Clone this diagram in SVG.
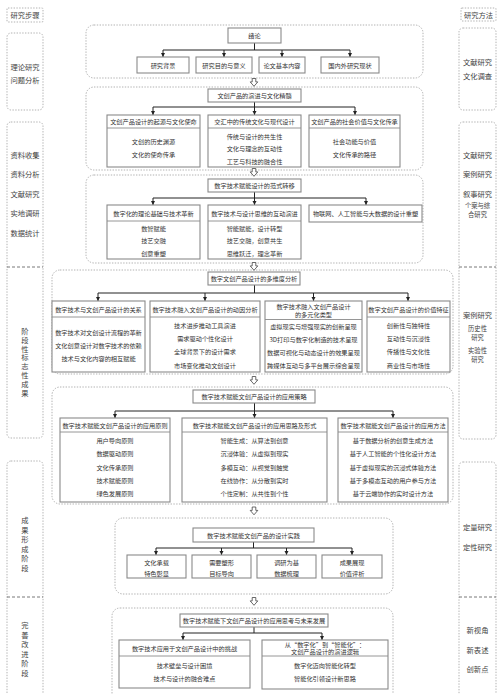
<svg xmlns="http://www.w3.org/2000/svg" xmlns:xlink="http://www.w3.org/1999/xlink" width="500" height="694" viewBox="0 0 500 694">
<defs>
<style>
.bg{fill:#fff}
.sec{fill:none;stroke:#a0a0a0;stroke-width:0.8;stroke-dasharray:1.4 1.4}
.col{fill:none;stroke:#a0a0a0;stroke-width:0.8;stroke-dasharray:1.4 1.4}
.div{stroke:#555;stroke-width:0.8;stroke-dasharray:3 2}
.box{fill:#fff;stroke:#8a8a8a;stroke-width:1.1}
.hl{stroke:#8a8a8a;stroke-width:0.9}
.t{font-family:"Noto Sans CJK SC","Noto Sans",sans-serif;font-size:6.2px;fill:#333;text-anchor:middle;dominant-baseline:central}
.l{font-family:"Noto Sans CJK SC","Noto Sans",sans-serif;font-size:7.3px;fill:#444;text-anchor:middle;dominant-baseline:central}
.ls{font-family:"Noto Sans CJK SC","Noto Sans",sans-serif;font-size:6.3px;fill:#444;text-anchor:middle;dominant-baseline:central}
.c{fill:none;stroke:#222;stroke-width:1}
.a{fill:none;stroke:#222;stroke-width:1;marker-end:url(#ah)}
.ho{fill:#fff;stroke:#444;stroke-width:0.8}
</style>
<marker id="ah" viewBox="0 0 6 6" refX="6" refY="3" markerWidth="4.5" markerHeight="4.5" orient="auto" markerUnits="userSpaceOnUse"><path d="M0,0 L6,3 L0,6 z" fill="#222"/></marker>
<path id="hollow" class="ho" d="M-1.8,-4 H1.8 V-0.6 H3.8 L0,3.8 L-3.8,-0.6 H-1.8 Z"/>
</defs>
<rect class="bg" x="0" y="0" width="500" height="694"/>

<!-- left column -->
<g id="col-left">
<rect class="col" x="7" y="8" width="36" height="14" rx="1"/>
<text class="l" x="25" y="15">研究步骤</text>
<rect class="col" x="7" y="33" width="36" height="77" rx="4"/>
<text class="l" x="25" y="67">理论研究</text>
<text class="l" x="25" y="80">问题分析</text>
<rect class="col" x="7" y="122" width="36" height="316" rx="4"/>
<text class="l" x="25" y="155">资料收集</text>
<text class="l" x="25" y="174">资料分析</text>
<text class="l" x="25" y="194">文献研究</text>
<text class="l" x="25" y="213">实地调研</text>
<text class="l" x="25" y="233">数据统计</text>
<line class="div" x1="7" y1="267" x2="43" y2="267"/>
<text class="l" x="25" y="331"><tspan x="25" y="331">阶</tspan><tspan x="25" y="339.8">段</tspan><tspan x="25" y="348.6">性</tspan><tspan x="25" y="357.4">标</tspan><tspan x="25" y="366.2">志</tspan><tspan x="25" y="375">性</tspan><tspan x="25" y="383.8">成</tspan><tspan x="25" y="392.6">果</tspan></text>
<rect class="col" x="7" y="461" width="36" height="250" rx="4"/>
<text class="l" x="25" y="520"><tspan x="25" y="520">成</tspan><tspan x="25" y="529.5">果</tspan><tspan x="25" y="539">形</tspan><tspan x="25" y="548.5">成</tspan><tspan x="25" y="558">阶</tspan><tspan x="25" y="567.5">段</tspan></text>
<line class="div" x1="7" y1="597" x2="43" y2="597"/>
<text class="l" x="25" y="625"><tspan x="25" y="625">完</tspan><tspan x="25" y="634.6">善</tspan><tspan x="25" y="644.2">改</tspan><tspan x="25" y="653.8">进</tspan><tspan x="25" y="663.4">阶</tspan><tspan x="25" y="673">段</tspan></text>
</g>

<!-- right column -->
<g id="col-right">
<rect class="col" x="461" y="8" width="35" height="13" rx="1"/>
<text class="l" x="478.5" y="14.5">研究方法</text>
<rect class="col" x="459" y="28" width="37" height="82" rx="4"/>
<text class="l" x="477.5" y="62">文献研究</text>
<text class="l" x="477.5" y="76">文化调查</text>
<rect class="col" x="459" y="122" width="37" height="317" rx="4"/>
<text class="l" x="477.5" y="155">文献研究</text>
<text class="l" x="477.5" y="174">案例研究</text>
<text class="l" x="477.5" y="194">叙事研究</text>
<text class="ls" x="477.5" y="205">个案与综</text>
<text class="ls" x="477.5" y="214.5">合研究</text>
<line class="div" x1="459" y1="267" x2="496" y2="267"/>
<text class="l" x="477.5" y="315">案例研究</text>
<text class="ls" x="477.5" y="328">历史性</text>
<text class="ls" x="477.5" y="337.5">研究</text>
<text class="ls" x="477.5" y="350">实验性</text>
<text class="ls" x="477.5" y="359.5">研究</text>
<rect class="col" x="459" y="462" width="37" height="250" rx="4"/>
<text class="l" x="477.5" y="527">定量研究</text>
<text class="l" x="477.5" y="547">定性研究</text>
<line class="div" x1="459" y1="597" x2="496" y2="597"/>
<text class="l" x="477.5" y="630">新视角</text>
<text class="l" x="477.5" y="650">新表述</text>
<text class="l" x="477.5" y="669">创新点</text>
</g>

<!-- section frames -->
<g id="frames">
<rect class="sec" x="86" y="25" width="337" height="53" rx="8"/>
<rect class="sec" x="86" y="87" width="337" height="83" rx="8"/>
<rect class="sec" x="86" y="175" width="337" height="88" rx="8"/>
<rect class="sec" x="52" y="270" width="401" height="104" rx="8"/>
<rect class="sec" x="52" y="387" width="401" height="117" rx="8"/>
<rect class="sec" x="115" y="518" width="278" height="76" rx="8"/>
<rect class="sec" x="112" y="608" width="281" height="100" rx="8"/>
</g>

<!-- connectors -->
<g id="connectors">
<path class="c" d="M254.5,43 V50 M163,50 H350"/>
<path class="a" d="M163,50 V57"/><path class="a" d="M224,50 V57"/><path class="a" d="M282,50 V57"/><path class="a" d="M350,50 V57"/>
<path class="c" d="M254.5,102 V107 M153,107 H355"/>
<path class="a" d="M153,107 V115"/><path class="a" d="M254.5,107 V115"/><path class="a" d="M355,107 V115"/>
<path class="c" d="M254.5,192 V198 M153,198 H366"/>
<path class="a" d="M153,198 V205"/><path class="a" d="M254.5,198 V205"/><path class="a" d="M366,198 V205"/>
<path class="c" d="M254.5,285 V293 M98,293 H408"/>
<path class="a" d="M98,293 V301"/><path class="a" d="M205,293 V301"/><path class="a" d="M313.5,293 V301"/><path class="a" d="M408,293 V301"/>
<path class="c" d="M254.5,403 V411 M115,411 H393"/>
<path class="a" d="M115,411 V418"/><path class="a" d="M254.5,411 V418"/><path class="a" d="M393,411 V418"/>
<path class="c" d="M253.5,542 V548 M156,548 H352"/>
<path class="a" d="M156,548 V555"/><path class="a" d="M221.5,548 V555"/><path class="a" d="M286.5,548 V555"/><path class="a" d="M352,548 V555"/>
<path class="c" d="M254,627 V633 M183,633 H322"/>
<path class="a" d="M183,633 V640"/><path class="a" d="M322,633 V640"/>
<use xlink:href="#hollow" href="#hollow" transform="translate(254,82.5)"/>
<use xlink:href="#hollow" href="#hollow" transform="translate(254,172.5)"/>
<use xlink:href="#hollow" href="#hollow" transform="translate(254,266.5)"/>
<use xlink:href="#hollow" href="#hollow" transform="translate(254,380.5)"/>
<use xlink:href="#hollow" href="#hollow" transform="translate(254,511)"/>
<use xlink:href="#hollow" href="#hollow" transform="translate(254,601.5)"/>
</g>

<!-- section 1 -->
<g id="n-intro"><rect class="box" x="228" y="28" width="53" height="15"/><text class="t" x="254.5" y="35.5">绪论</text></g>
<g id="n-bg"><rect class="box" x="137" y="57" width="52" height="16"/><text class="t" x="163" y="65">研究背景</text></g>
<g id="n-purpose"><rect class="box" x="196" y="57" width="56" height="16"/><text class="t" x="224" y="65">研究目的与意义</text></g>
<g id="n-content"><rect class="box" x="259" y="57" width="46" height="16"/><text class="t" x="282" y="65">论文基本内容</text></g>
<g id="n-status"><rect class="box" x="321" y="57" width="58" height="16"/><text class="t" x="350" y="65">国内外研究现状</text></g>

<!-- section 2 -->
<g id="n-s2"><rect class="box" x="208" y="89" width="93" height="13"/><text class="t" x="254.5" y="95.5">文创产品的演进与文化精髓</text></g>
<g id="n-s2a"><rect class="box" x="107" y="115" width="93" height="52"/><line class="hl" x1="107" y1="128" x2="200" y2="128"/>
<text class="t" x="153.5" y="121.5">文创产品设计的起源与文化使命</text>
<text class="t" x="153.5" y="141">文创的历史渊源</text><text class="t" x="153.5" y="154">文化的使命传承</text></g>
<g id="n-s2b"><rect class="box" x="208" y="115" width="93" height="52"/><line class="hl" x1="208" y1="128" x2="301" y2="128"/>
<text class="t" x="254.5" y="121.5">交汇中的传统文化与现代设计</text>
<text class="t" x="254.5" y="136">传统与设计的共生性</text><text class="t" x="254.5" y="148.5">文化与理念的互动性</text><text class="t" x="254.5" y="161">工艺与科技的融合性</text></g>
<g id="n-s2c"><rect class="box" x="309" y="115" width="91" height="52"/><line class="hl" x1="309" y1="128" x2="400" y2="128"/>
<text class="t" x="354.5" y="121.5">文创产品的社会价值与文化传承</text>
<text class="t" x="354.5" y="141">社会功能与价值</text><text class="t" x="354.5" y="154">文化传承的路径</text></g>

<!-- section 3 -->
<g id="n-s3"><rect class="box" x="208" y="179" width="93" height="13"/><text class="t" x="254.5" y="185.5">数字技术赋能设计的范式转移</text></g>
<g id="n-s3a"><rect class="box" x="107" y="205" width="93" height="54"/><line class="hl" x1="107" y1="221" x2="200" y2="221"/>
<text class="t" x="153.5" y="213">数字化的理论基础与技术革新</text>
<text class="t" x="153.5" y="228">数智赋能</text><text class="t" x="153.5" y="240.5">技艺交融</text><text class="t" x="153.5" y="253">创意重塑</text></g>
<g id="n-s3b"><rect class="box" x="208" y="205" width="93" height="54"/><line class="hl" x1="208" y1="221" x2="301" y2="221"/>
<text class="t" x="254.5" y="213">数字技术与设计思维的互动演进</text>
<text class="t" x="254.5" y="228">智能赋能，设计转型</text><text class="t" x="254.5" y="240.5">技艺交融，创意共生</text><text class="t" x="254.5" y="253">思维跃迁，理念革新</text></g>
<g id="n-s3c"><rect class="box" x="309" y="205" width="113" height="17"/><text class="t" x="365.5" y="213.5">物联网、人工智能与大数据的设计重塑</text></g>

<!-- section 4 -->
<g id="n-s4"><rect class="box" x="208" y="272" width="92" height="13"/><text class="t" x="254" y="278.5">数字文创产品设计的多维度分析</text></g>
<g id="n-s4a"><rect class="box" x="52" y="301" width="93" height="71"/><line class="hl" x1="52" y1="317" x2="145" y2="317"/>
<text class="t" x="98.5" y="309">数字技术与文创产品设计的关系</text>
<text class="t" x="98.5" y="332">数字技术对文创设计流程的革新</text><text class="t" x="98.5" y="345">文化创意设计对数字技术的依赖</text><text class="t" x="98.5" y="358">技术与文化内容的相互赋能</text></g>
<g id="n-s4b"><rect class="box" x="150" y="301" width="110" height="71"/><line class="hl" x1="150" y1="317" x2="260" y2="317"/>
<text class="t" x="205" y="309">数字技术融入文创产品设计的动因分析</text>
<text class="t" x="205" y="325">技术进步推动工具演进</text><text class="t" x="205" y="338">需求驱动个性化设计</text><text class="t" x="205" y="351.5">全球背景下的设计需求</text><text class="t" x="205" y="365">市场变化推动文创设计</text></g>
<g id="n-s4c"><rect class="box" x="265" y="301" width="97" height="71"/><line class="hl" x1="265" y1="319.5" x2="362" y2="319.5"/>
<text class="t" x="313.5" y="306">数字技术融入文创产品设计</text><text class="t" x="313.5" y="314">的多元化类型</text>
<text class="t" x="313.5" y="326">虚拟现实与增强现实的创新呈现</text><text class="t" x="313.5" y="339">3D打印与数字化制造的技术呈现</text><text class="t" x="313.5" y="352">数据可视化与动态设计的效果呈现</text><text class="t" x="313.5" y="365">跨媒体互动与多平台展示综合呈现</text></g>
<g id="n-s4d"><rect class="box" x="367" y="301" width="83" height="71"/><line class="hl" x1="367" y1="317" x2="450" y2="317"/>
<text class="t" x="408.5" y="309">数字文创产品设计的价值特征</text>
<text class="t" x="408.5" y="325">创新性与独特性</text><text class="t" x="408.5" y="338">互动性与沉浸性</text><text class="t" x="408.5" y="351.5">传播性与文化性</text><text class="t" x="408.5" y="365">商业性与市场性</text></g>

<!-- section 5 -->
<g id="n-s5"><rect class="box" x="193" y="390" width="122" height="13"/><text class="t" x="254" y="396.5">数字技术赋能文创产品设计的应用策略</text></g>
<g id="n-s5a"><rect class="box" x="60" y="418" width="110" height="84"/><line class="hl" x1="60" y1="432" x2="170" y2="432"/>
<text class="t" x="115" y="425">数字技术赋能文创产品设计的应用原则</text>
<text class="t" x="115" y="440">用户导向原则</text><text class="t" x="115" y="453.5">数据驱动原则</text><text class="t" x="115" y="467">文化传承原则</text><text class="t" x="115" y="480">技术赋能原则</text><text class="t" x="115" y="493">绿色发展原则</text></g>
<g id="n-s5b"><rect class="box" x="182" y="418" width="145" height="84"/><line class="hl" x1="182" y1="432" x2="327" y2="432"/>
<text class="t" x="254.5" y="425">数字技术赋能文创产品设计的应用思路及形式</text>
<text class="t" x="254.5" y="440">智能生成：从算法到创意</text><text class="t" x="254.5" y="453.5">沉浸体验：从虚拟到现实</text><text class="t" x="254.5" y="467">多模互动：从视觉到触觉</text><text class="t" x="254.5" y="480">在线协作：从分散到实时</text><text class="t" x="254.5" y="493">个性定制：从共性到个性</text></g>
<g id="n-s5c"><rect class="box" x="338" y="418" width="110" height="84"/><line class="hl" x1="338" y1="432" x2="448" y2="432"/>
<text class="t" x="393" y="425">数字技术赋能文创产品设计的应用方法</text>
<text class="t" x="393" y="440">基于数据分析的创意生成方法</text><text class="t" x="393" y="453.5">基于人工智能的个性化设计方法</text><text class="t" x="393" y="467">基于虚拟现实的沉浸式体验方法</text><text class="t" x="393" y="480">基于多模态互动的用户参与方法</text><text class="t" x="393" y="493">基于云端协作的实时设计方法</text></g>

<!-- section 6 -->
<g id="n-s6"><rect class="box" x="193" y="528" width="121" height="14"/><text class="t" x="253.5" y="535">数字技术赋能文创产品的设计实践</text></g>
<g id="n-s6a"><rect class="box" x="127" y="555" width="59" height="23"/><text class="t" x="156.5" y="562">文化承载</text><text class="t" x="156.5" y="573">特色彰显</text></g>
<g id="n-s6b"><rect class="box" x="192" y="555" width="59" height="23"/><text class="t" x="221.5" y="562">需要塑形</text><text class="t" x="221.5" y="573">目标导向</text></g>
<g id="n-s6c"><rect class="box" x="257" y="555" width="59" height="23"/><text class="t" x="286.5" y="562">调研为基</text><text class="t" x="286.5" y="573">数据梳理</text></g>
<g id="n-s6d"><rect class="box" x="322" y="555" width="60" height="23"/><text class="t" x="352" y="562">成果展现</text><text class="t" x="352" y="573">价值评析</text></g>

<!-- section 7 -->
<g id="n-s7"><rect class="box" x="180" y="614" width="148" height="13"/><text class="t" x="254" y="620.5">数字技术赋能下文创产品设计的应用思考与未来发展</text></g>
<g id="n-s7a"><rect class="box" x="119" y="640" width="131" height="48"/><line class="hl" x1="119" y1="656" x2="250" y2="656"/>
<text class="t" x="184.5" y="648">数字技术应用于文创产品设计中的挑战</text>
<text class="t" x="184.5" y="665">技术壁垒与设计困境</text><text class="t" x="184.5" y="678">技术与设计的融合难点</text></g>
<g id="n-s7b"><rect class="box" x="262" y="640" width="126" height="49"/><line class="hl" x1="262" y1="656" x2="388" y2="656"/>
<text class="t" x="325" y="644">从“数字化”到“智能化”：</text><text class="t" x="325" y="651.5">文创产品设计的演进逻辑</text>
<text class="t" x="325" y="665">数字化迈向智能化转型</text><text class="t" x="325" y="678">智能化引领设计新思路</text></g>
</svg>
